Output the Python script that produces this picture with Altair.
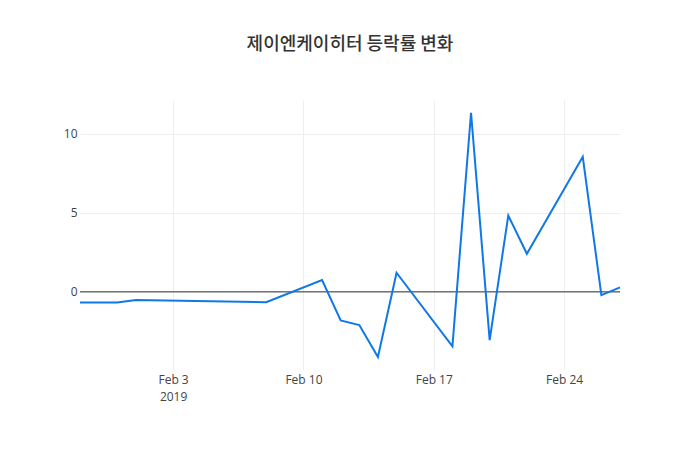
import altair as alt
import pandas as pd

# Daily change rate (%)
dates = ["2019-01-29", "2019-01-31", "2019-02-01", "2019-02-08", "2019-02-11",
         "2019-02-12", "2019-02-13", "2019-02-14", "2019-02-15", "2019-02-18",
         "2019-02-19", "2019-02-20", "2019-02-21", "2019-02-22", "2019-02-25",
         "2019-02-26", "2019-02-27"]
rates = [-0.68, -0.68, -0.51, -0.66, 0.75,
         -1.81, -2.1, -4.13, 1.21, -3.45,
         11.34, -3.06, 4.83, 2.41, 8.55,
         -0.21, 0.28]
tick_days = [3, 10, 17, 24]
title_text = "제이엔케이히터 등락률 변화"

df = pd.DataFrame({"date": dates, "rate": rates})
zero_df = pd.DataFrame({"y": [0]})

x_ticks = [alt.DateTime(year=2019, month=2, date=d, utc=True) for d in tick_days]

base = alt.Chart(df)

line = base.mark_line(color="#0f78e6", strokeWidth=2).encode(
    x=alt.X("date:T",
            scale=alt.Scale(type="utc",
                            domain=[alt.DateTime(year=2019, month=1, date=29, utc=True),
                                    alt.DateTime(year=2019, month=2, date=27, utc=True)]),
            axis=alt.Axis(title=None, values=x_ticks, domain=False, ticks=False,
                          gridColor="#eeeeee", labelColor="#444444", labelFontSize=12,
                          labelFont="Open Sans", labelPadding=4, labelLineHeight=17,
                          labelExpr="datum.index == 0 ? [utcFormat(datum.value, '%b %-d'), '2019'] : utcFormat(datum.value, '%b %-d')")),
    y=alt.Y("rate:Q",
            scale=alt.Scale(domain=[-4.95, 12.15], nice=False, zero=False),
            axis=alt.Axis(title=None, values=[0, 5, 10], domain=False, ticks=False,
                          gridColor="#eeeeee", labelColor="#444444", labelFontSize=12,
                          labelFont="Open Sans", labelPadding=3))
)

zero = alt.Chart(zero_df).mark_rule(color="#333333", strokeWidth=1).encode(y="y:Q")

chart = alt.layer(zero, line).properties(
    width=540,
    height=270,
    autosize=alt.AutoSizeParams(type="none"),
    padding={"left": 72, "top": 92, "right": 72, "bottom": 72},
    title=alt.TitleParams(title_text, font="Noto Sans CJK KR", fontSize=18,
                          fontWeight=500, color="#333333", anchor="middle",
                          offset=46),
).configure_view(stroke=None)

chart.save("out.html", embed_options={"renderer": "svg", "actions": False})
